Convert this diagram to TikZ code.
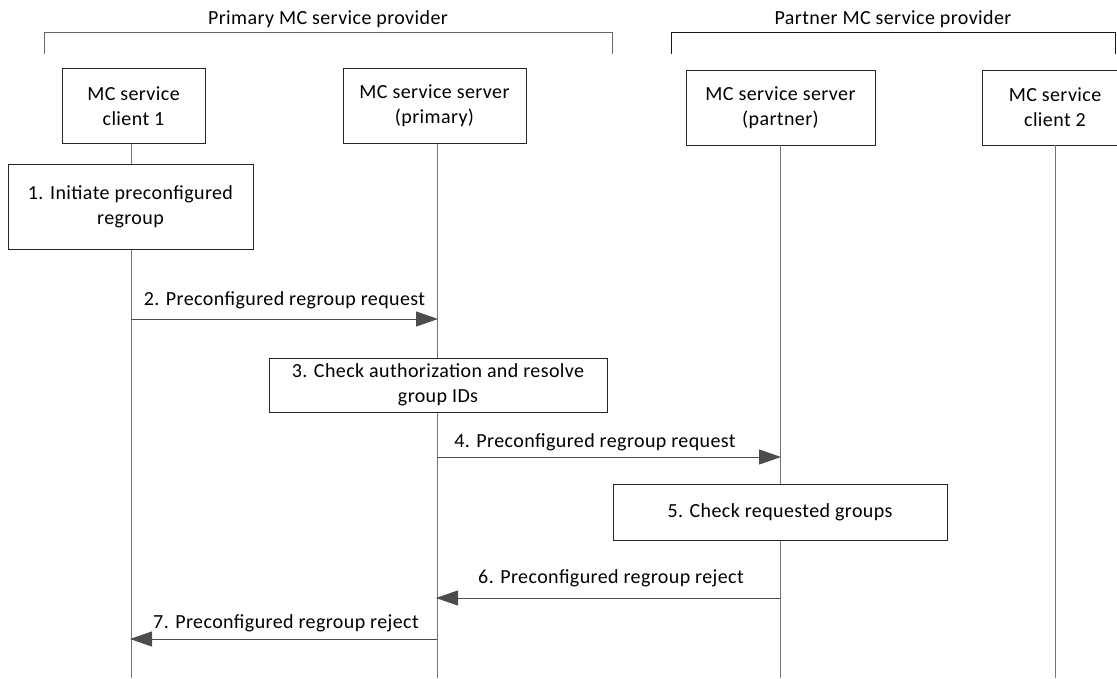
\documentclass[tikz,border=0pt]{standalone}
\usepackage{fontspec}
\setmainfont{Carlito}[LetterSpace=2]
\usetikzlibrary{arrows.meta}
\begin{document}
\begin{tikzpicture}[x=1pt,y=-1pt,
  font=\fontsize{20}{25}\selectfont,
  hdr/.style={draw=black!85, fill=white, line width=0.9pt, align=center, inner sep=0pt, minimum height=75pt},
  stepbox/.style={draw=black!85, fill=white, line width=0.9pt, align=center, inner sep=0pt},
  life/.style={draw=black!55, line width=1pt},
  msg/.style={draw=black!70, line width=1pt, -{Triangle[length=22pt,width=15pt]}, shorten >=-1pt},
  brk/.style={line width=0.9pt},
  lbl/.style={anchor=base, inner sep=0pt}]
\useasboundingbox (0,0) rectangle (1117,678);

% provider brackets
\draw[brk, draw=black!60] (44,54) |- (612,32) -- (612,54);
\node[lbl] (pname) at (328,24) {Primary MC service provider};
\draw[brk, draw=black!90] (671,54) |- (1115,32) -- (1115,54);
\node[lbl] (qname) at (893,24) {Partner MC service provider};

% headers
\node[hdr, minimum width=143pt] (c1) at (133.5,106) {MC service\\client 1};
\node[hdr, minimum width=183pt] (sp) at (434.5,106) {MC service server\\(primary)};
\node[hdr, minimum width=189pt] (sq) at (780.5,107.5) {MC service server\\(partner)};
\node[hdr, minimum width=146pt] (c2) at (1055,107.5) {MC service\\client 2};

% lifeline ends
\coordinate (c1e) at (131,678);
\coordinate (spe) at (437,678);
\coordinate (sqe) at (780,678);
\coordinate (c2e) at (1055,678);
\draw[life] (c1.south -| c1e) -- (c1e);
\draw[life] (sp.south -| spe) -- (spe);
\draw[life] (sq.south -| sqe) -- (sqe);
\draw[life] (c2.south -| c2e) -- (c2e);

% steps
\node[stepbox, minimum width=245pt, minimum height=85pt] (s1) at (130.5,206.5) {1. Initiate preconfigured\\regroup};
\node[stepbox, minimum width=338pt, minimum height=54pt] (s3) at (438,385) {3. Check authorization and resolve\\group IDs};
\node[stepbox, minimum width=334pt, minimum height=56pt] (s5) at (780,512) {5. Check requested groups};

% message anchor points
\coordinate (m2a) at (131,319);  \coordinate (m2b) at (437,319);
\coordinate (m4a) at (437,457);  \coordinate (m4b) at (780,457);
\coordinate (m6a) at (780,598);  \coordinate (m6b) at (437,598);
\coordinate (m7a) at (437,639);  \coordinate (m7b) at (131,639);

\draw[msg] (m2a) -- (m2b);
\node[lbl] (l2) at (284.5,305) {2. Preconfigured regroup request};
\draw[msg] (m4a) -- (m4b);
\node[lbl] (l4) at (595,447) {4. Preconfigured regroup request};
\draw[msg] (m6a) -- (m6b);
\node[lbl] (l6) at (611,583) {6. Preconfigured regroup reject};
\draw[msg] (m7a) -- (m7b);
\node[lbl] (l7) at (286,628) {7. Preconfigured regroup reject};
\end{tikzpicture}
\end{document}
